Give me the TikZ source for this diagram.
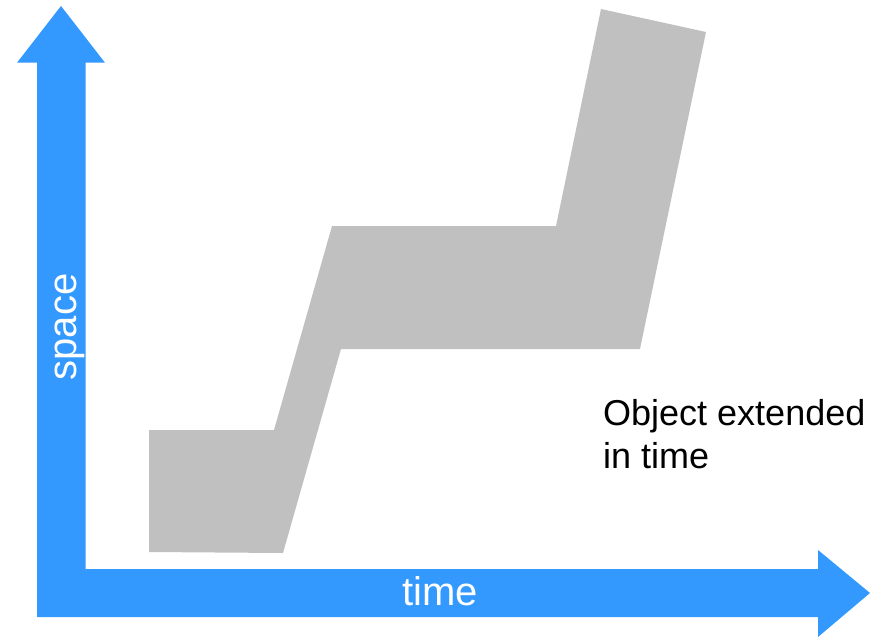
\documentclass[tikz,border=0pt]{standalone}
\usepackage{fontspec}
\setmainfont{Liberation Sans}
\usepackage{tikz}
\usetikzlibrary{ % tikz packages
    positioning
}
\definecolor{axisblue}{RGB}{51,153,255}
\definecolor{worm}{RGB}{192,192,192}
\tikzset{
    axis/.style={fill=axisblue,draw=none},
    axislabel/.style={text=white,font=\fontsize{40}{48}\selectfont,inner sep=0pt},
    note/.style={align=left,font=\fontsize{36}{43}\selectfont,inner sep=0pt}
}

\begin{document}
\begin{tikzpicture}[x=1pt,y=-1pt]
        \useasboundingbox (0,0) rectangle (886,637);

        % the object through time
        \fill[worm] (149,430) -- (274,430) -- (332,226) -- (556,226)
            -- (601,9) -- (706,32) -- (640,349) -- (341,349)
            -- (283,553) -- (149,552) -- cycle;

        % axes
        \path[axis] (37,617) -- (37,62.7) -- (17,62.7) -- (61,6)
            -- (105,62.7) -- (85.6,62.7) -- (85.6,569) -- (818,569)
            -- (818,550) -- (870,593) -- (818,637) -- (818,617) -- cycle;

        \node[axislabel,rotate=90,anchor=base] (space) at (76,327) {space};
        \node[axislabel,anchor=base] (time) at (440,605) {time};

        \node[note,anchor=base west] (obj) at (603,468) {Object extended\\in time};
    \end{tikzpicture}
\end{document}
